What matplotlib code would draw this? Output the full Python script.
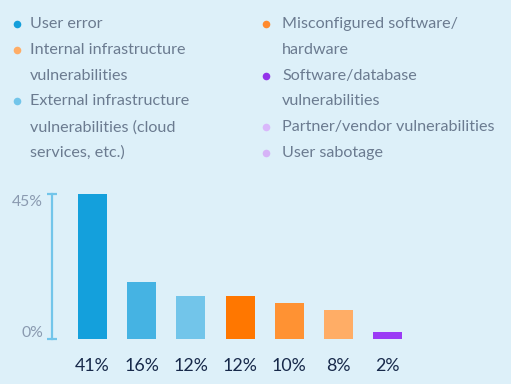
import matplotlib.pyplot as plt
from matplotlib import transforms

# legend entries (two columns)
legend_left = ["User error", "Internal infrastructure\nvulnerabilities",
               "External infrastructure\nvulnerabilities (cloud\nservices, etc.)"]
legend_left_colors = ["#149fdb", "#ffad66", "#72c5ea"]
legend_right = ["Misconfigured software/\nhardware", "Software/database\nvulnerabilities",
                "Partner/vendor vulnerabilities", "User sabotage"]
legend_right_colors = ["#ff8a2e", "#9333ea", "#d9b8fb", "#d6b3f7"]

# bars
values = [41, 16, 12, 12, 10, 8, 2]
bar_labels = ["41%", "16%", "12%", "12%", "10%", "8%", "2%"]
bar_colors = ["#14a0dc", "#45b3e3", "#72c5ea", "#ff7700", "#ff9233", "#ffad66", "#9b3bf5"]
ytick_vals = [0, 41]
ytick_labels = ["0%", "45%"]

bg = "#ddf0f9"
txt = "#6b7b90"
W, H = 511, 384
plt.rcParams['font.family'] = ['Lato', 'DejaVu Sans']
fig = plt.figure(figsize=(5.11, 3.84), dpi=100, facecolor=bg)

# overlay in pixel coords for the legend
lg = fig.add_axes([0, 0, 1, 1])
lg.set_xlim(0, W)
lg.set_ylim(H, 0)
lg.axis("off")

def legend_col(x_dot, x_txt, items, colors):
    row = 0
    for lab, c in zip(items, colors):
        y = 24 + row * 25.8
        lg.scatter([x_dot], [y], s=30, color=c, linewidths=0)
        lines = lab.split("\n")
        for j, line in enumerate(lines):
            lg.text(x_txt, 24 + (row + j) * 25.8, line, color=txt, fontsize=11.6,
                    va="center", ha="left")
        row += len(lines)

legend_col(17, 30, legend_left, legend_left_colors)
legend_col(266, 282, legend_right, legend_right_colors)

# bar axes placed in pixels
ax_left, ax_right = 52.3, 430
ax_bottom, ax_top = 338.7, 194
ax = fig.add_axes([ax_left / W, 1 - ax_bottom / H, (ax_right - ax_left) / W, (ax_bottom - ax_top) / H])
ax.set_facecolor("none")
step = 49.2
x0 = -(92.5 - ax_left) / step
ax.set_xlim(x0, x0 + (ax_right - ax_left) / step)
ax.set_ylim(0, ytick_vals[-1])

xs = range(len(values))
ax.bar(xs, values, width=0.59, color=bar_colors)
for i, lab in enumerate(bar_labels):
    ax.annotate(lab, (i, 0), xytext=(0, -19.5), textcoords="offset points", ha="center", va="center",
                fontsize=12.8, color="#17294a")

for s in ["top", "right", "bottom"]:
    ax.spines[s].set_visible(False)
ax.spines["left"].set_color("#72c5ea")
ax.spines["left"].set_linewidth(1.6)
ax.set_xticks([])
ax.set_yticks(ytick_vals)
ax.set_yticklabels([])
ax.tick_params(axis="y", direction="inout", length=7, width=1.6, color="#72c5ea")

offs = [4, -6]
for v, lab, o in zip(ytick_vals, ytick_labels, offs):
    tr = transforms.offset_copy(ax.transData, fig=fig, x=0, y=o, units="points")
    ax.text(x0 - 0.19, v, lab, transform=tr, ha="right", va="center", fontsize=11.3, color="#8a9ab0")

fig.savefig("out.png", dpi=100, facecolor=bg)
